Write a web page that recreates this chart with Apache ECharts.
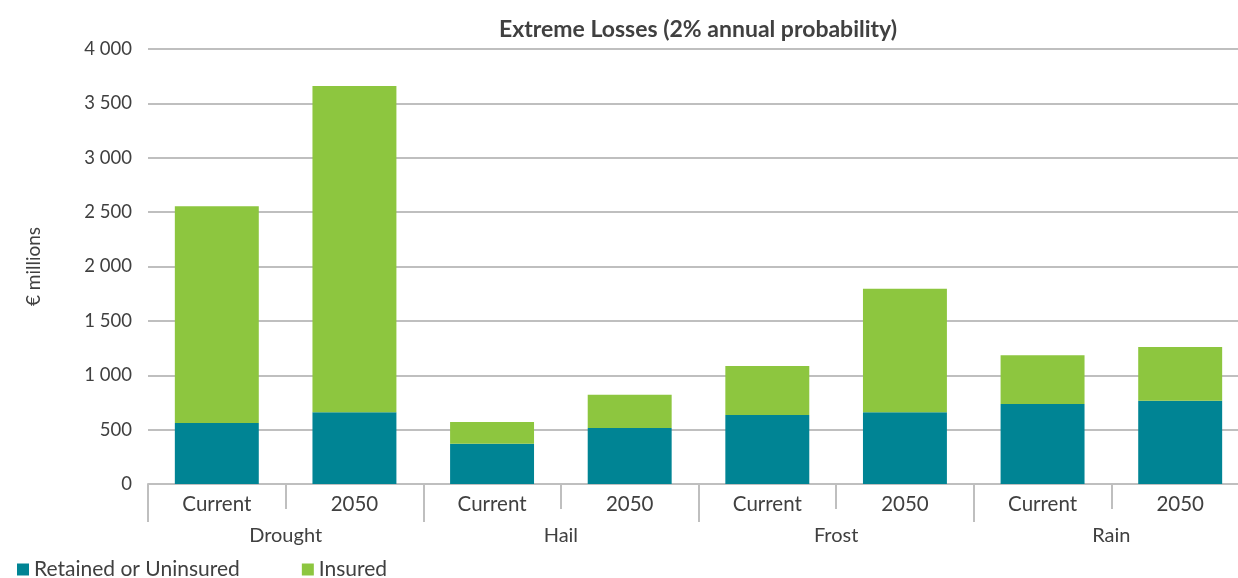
<!DOCTYPE html>
<html><head><meta charset="utf-8">
<script src="https://cdn.jsdelivr.net/npm/echarts@6/dist/echarts.min.js"></script>
<style>html,body{margin:0;padding:0;background:#fff;overflow:hidden}#c{width:1238px;height:578px}</style>
</head><body><div id="c"></div>
<script>
const categories = ['Current','2050','Current','2050','Current','2050','Current','2050'];
const groups = ['Drought','Hail','Frost','Rain'];
const retained = [560, 660, 370, 515, 635, 660, 735, 765];
const insured = [1995, 3000, 200, 305, 450, 1135, 450, 495];
const yTicks = [0, 500, 1000, 1500, 2000, 2500, 3000, 3500, 4000];

const FONT = 'Lato';
const TXT = '#404040';
const chart = echarts.init(document.getElementById('c'));
chart.setOption({
  animation: false,
  textStyle: {fontFamily: FONT},
  title: {
    text: 'Extreme Losses (2% annual probability)',
    left: 494, top: 13,
    textStyle: {fontFamily: FONT, fontSize: 23, fontWeight: 'bold', color: TXT}
  },
  legend: {
    left: 12, top: 554,
    itemWidth: 12, itemHeight: 12, itemGap: 62,
    icon: 'rect',
    textStyle: {fontFamily: FONT, fontSize: 21, color: TXT},
    data: ['Retained or Uninsured', 'Insured']
  },
  grid: {left: 148, width: 1101, top: 49, height: 435, containLabel: false, outerBoundsMode: 'none'},
  xAxis: [{
    type: 'category', data: categories, position: 'bottom',
    axisLine: {lineStyle: {color: '#bfbfbf', width: 2}},
    axisTick: {show: true, length: 25, interval: 0, lineStyle: {color: '#bfbfbf', width: 2}},
    axisLabel: {interval: 0, fontSize: 20.5, color: TXT, margin: 10, fontFamily: FONT}
  }, {
    type: 'category', data: groups, position: 'bottom',
    axisLine: {show: false},
    axisTick: {show: true, length: 38, interval: 0, lineStyle: {color: '#bfbfbf', width: 2}},
    axisLabel: {interval: 0, fontSize: 20, color: TXT, margin: 42, fontFamily: FONT}
  }],
  yAxis: {
    type: 'value', min: 0, max: 4000, interval: 500,
    name: '€ millions', nameLocation: 'middle', nameGap: 105, nameRotate: 90,
    nameTextStyle: {fontSize: 19, color: TXT, fontFamily: FONT},
    axisLine: {show: false}, axisTick: {show: false},
    axisLabel: {fontSize: 18.5, color: TXT, margin: 16, fontFamily: FONT,
      formatter: v => String(v).replace(/\B(?=(\d{3})+(?!\d))/g, ' ')},
    splitLine: {lineStyle: {color: '#bfbfbf', width: 2}}
  },
  series: [{
    name: 'Retained or Uninsured', type: 'bar', stack: 'a', data: retained,
    barWidth: '61%', itemStyle: {color: '#008494'}
  }, {
    name: 'Insured', type: 'bar', stack: 'a', data: insured,
    barWidth: '61%', itemStyle: {color: '#8dc63f'}
  }]
});
</script></body></html>
